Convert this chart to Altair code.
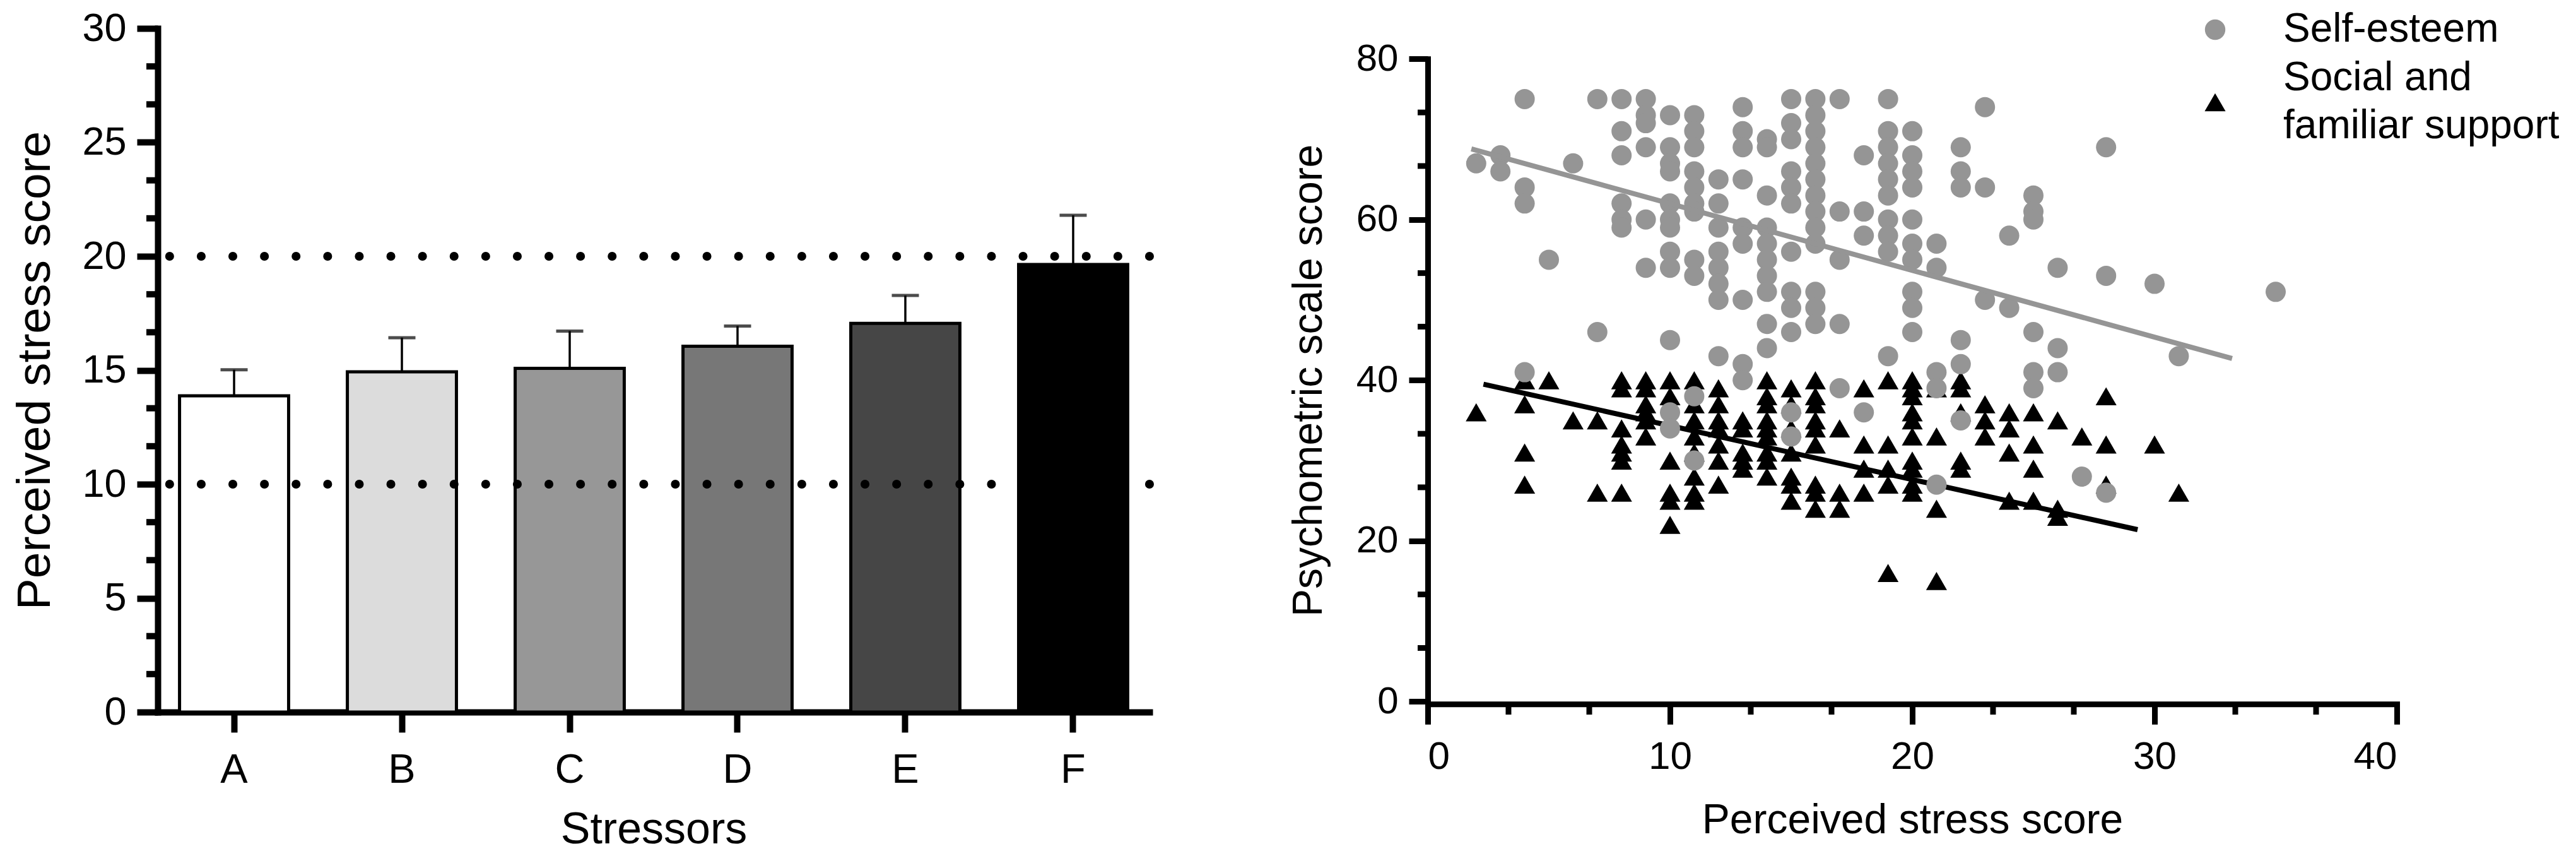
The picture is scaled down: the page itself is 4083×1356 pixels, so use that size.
import altair as alt
import pandas as pd

FONT = "Liberation Sans, Arial, sans-serif"

# ---------------- Left panel data ----------------
STRESSORS = ["A", "B", "C", "D", "E", "F"]
MEANS = [13.88, 14.93, 15.08, 16.05, 17.06, 19.64]
UPPER = [15.02, 16.43, 16.72, 16.94, 18.28, 21.80]
FILLS = ["#ffffff", "#dcdcdc", "#979797", "#777777", "#464646", "#000000"]
REF_LINES = [10, 20]
LEFT_MAJOR = [0, 5, 10, 15, 20, 25, 30]
LEFT_MINOR = [1.667, 3.333, 6.667, 8.333, 11.667, 13.333, 16.667, 18.333,
              21.667, 23.333, 26.667, 28.333]

# ---------------- Right panel data ----------------
SE_NAME = "Self-esteem"
SS_NAME = "Social and familiar support"
SS_LABEL_LINES = ["Social and", "\u00a0familiar support"]

SELF_ESTEEM = {
    2: [67], 3: [68, 66], 4: [75, 64, 62, 41], 5: [55], 6: [67], 7: [75, 46],
    8: [75, 71, 68, 62, 60, 59],
    9: [75, 73, 72, 69, 60, 54],
    10: [73, 69, 67, 66, 62, 60, 59, 56, 54, 45, 36, 34],
    11: [73, 71, 69, 66, 64, 62, 61, 55, 53, 38, 30],
    12: [65, 62, 59, 56, 54, 52, 50, 43],
    13: [74, 71, 69, 65, 59, 57, 50, 42, 40],
    14: [70, 69, 63, 59, 57, 55, 53, 51, 47, 44],
    15: [75, 72, 70, 66, 64, 62, 56, 51, 49, 46, 36, 33],
    16: [75, 73, 71, 69, 67, 65, 63, 61, 59, 57, 51, 49, 47],
    17: [75, 61, 55, 47, 39],
    18: [68, 61, 58, 36],
    19: [75, 71, 69, 67, 65, 63, 60, 58, 56, 43],
    20: [71, 68, 66, 64, 60, 57, 55, 51, 49, 46],
    21: [57, 54, 41, 39, 27],
    22: [69, 66, 64, 45, 42, 35],
    23: [74, 64, 50], 24: [58, 49], 25: [63, 61, 60, 46, 41, 39],
    26: [54, 44, 41], 27: [28], 28: [69, 53, 26], 30: [52], 31: [43], 35: [51],
}

SOCIAL_SUPPORT = {
    2: [36], 4: [40, 37, 31, 27], 5: [40], 6: [35], 7: [35, 26],
    8: [40, 39, 34, 32, 31, 30, 26],
    9: [40, 39, 37, 36, 35, 33],
    10: [40, 38, 30, 26, 25, 22],
    11: [40, 37, 35, 33, 31, 28, 26, 25],
    12: [39, 37, 35, 34, 32, 30, 27],
    13: [35, 34, 31, 30, 29],
    14: [40, 38, 37, 35, 34, 33, 31, 30, 28],
    15: [39, 37, 34, 31, 28, 27, 25],
    16: [40, 38, 37, 35, 34, 32, 27, 26, 24],
    17: [34, 26, 24], 18: [39, 32, 29, 26], 19: [40, 32, 29, 27, 16],
    20: [40, 39, 38, 36, 35, 33, 30, 29, 27, 26],
    21: [39, 33, 24, 15], 22: [40, 39, 36, 30, 29], 23: [37, 35, 33],
    24: [36, 34, 31, 25], 25: [36, 32, 29, 25], 26: [35, 24, 23],
    27: [33], 28: [38, 32, 27], 30: [32], 31: [26],
}

# fitted lines (end points)
SE_LINE_X = [1.8, 33.2]
SE_LINE_Y = [68.8, 42.7]
SS_LINE_X = [2.3, 29.3]
SS_LINE_Y = [39.5, 21.4]

RIGHT_X_MAJOR = [0, 10, 20, 30, 40]
RIGHT_X_MINOR = [3.333, 6.667, 13.333, 16.667, 23.333, 26.667, 33.333, 36.667]
RIGHT_Y_MAJOR = [0, 20, 40, 60, 80]
RIGHT_Y_MINOR = [6.667, 13.333, 26.667, 33.333, 46.667, 53.333, 66.667, 73.333]

GRAY = "#959595"

# ================= Left chart =================
W1, H = 1572, 1083
bar_df = pd.DataFrame({"stressor": STRESSORS, "mean": MEANS, "upper": UPPER})
LEFT_YTITLE = "Perceived stress score"
yscale_l = alt.Scale(domain=[0, 30], nice=False, zero=True)
xscale_l = alt.Scale(domain=STRESSORS, paddingInner=0.35, paddingOuter=0.13)

bars = alt.Chart(bar_df).mark_bar(stroke="black", strokeWidth=5).encode(
    x=alt.X("stressor:N", scale=xscale_l, axis=alt.Axis(
        title="Stressors", labelAngle=0, tickSize=32, tickWidth=10, tickColor="black",
        domainWidth=10, domainColor="black", domainCap="square",
        labelFontSize=65, labelPadding=28, labelFont=FONT, labelColor="black",
        titleFontSize=70, titlePadding=28, titleFont=FONT, titleFontWeight="normal",
        titleColor="black")),
    y=alt.Y("mean:Q", scale=yscale_l, title=LEFT_YTITLE, axis=alt.Axis(
        values=LEFT_MAJOR, tickSize=33, tickWidth=10, tickColor="black",
        domainWidth=10, domainColor="black", domainCap="square",
        labelFontSize=63, labelPadding=17, labelFont=FONT, labelColor="black",
        titleFontSize=75, titlePadding=35, titleFont=FONT, titleFontWeight="normal",
        titleColor="black")),
    fill=alt.Fill("stressor:N", scale=alt.Scale(domain=STRESSORS, range=FILLS), legend=None),
)

err = alt.Chart(bar_df).mark_rule(color="black", strokeWidth=3.5).encode(
    x=alt.X("stressor:N", scale=xscale_l),
    y=alt.Y("mean:Q", scale=yscale_l, title=LEFT_YTITLE),
    y2="upper:Q",
)
caps = alt.Chart(bar_df).mark_tick(color="black", thickness=5, size=43, orient="horizontal").encode(
    x=alt.X("stressor:N", scale=xscale_l),
    y=alt.Y("upper:Q", scale=yscale_l, title=LEFT_YTITLE),
)
refs = alt.Chart(pd.DataFrame({"ref": REF_LINES})).mark_rule(
    color="black", strokeWidth=14, strokeDash=[0.1, 50], strokeCap="round"
).encode(y=alt.Y("ref:Q", scale=yscale_l, title=LEFT_YTITLE))
minor_l = alt.Chart(pd.DataFrame({"m": LEFT_MINOR})).mark_rule(
    color="black", strokeWidth=10
).encode(y=alt.Y("m:Q", scale=yscale_l, title=LEFT_YTITLE),
         x=alt.value(0), x2=alt.value(-18))

left = alt.layer(bars, err, caps, refs, minor_l).properties(width=W1, height=H)

# ================= Right chart =================
W2 = 1536
RIGHT_XTITLE = "Perceived stress score"
RIGHT_YTITLE = "Psychometric scale score"

ss_df = pd.DataFrame([{"stress": x, "score": y, "series": SS_NAME}
                      for x, ys in SOCIAL_SUPPORT.items() for y in ys])
se_df = pd.DataFrame([{"stress": x, "score": y, "series": SE_NAME}
                      for x, ys in SELF_ESTEEM.items() for y in ys])

xscale_r = alt.Scale(domain=[0, 40], nice=False)
yscale_r = alt.Scale(domain=[0, 80], nice=False, range=[1066.3, 48.3])

x_axis_r = alt.Axis(values=RIGHT_X_MAJOR, tickSize=32, tickWidth=9, tickColor="black",
                    domainWidth=9, domainColor="black", domainCap="square", offset=-12.7,
                    labelFontSize=62, labelPadding=21, labelFont=FONT, labelColor="black",
                    titleFontSize=66, titlePadding=38, titleFont=FONT,
                    titleFontWeight="normal", titleColor="black")
y_axis_r = alt.Axis(values=RIGHT_Y_MAJOR, tickSize=30, tickWidth=9, tickColor="black",
                    domainWidth=9, domainColor="black", domainCap="square",
                    labelFontSize=60, labelPadding=17, labelFont=FONT, labelColor="black",
                    titleFontSize=66, titlePadding=41, titleFont=FONT,
                    titleFontWeight="normal", titleColor="black")

LEG_X = 3229
legend_se = alt.Legend(
    title=None, orient="none", legendX=LEG_X, legendY=-30, padding=0,
    labelFontSize=64, labelFont=FONT, labelColor="black", labelLimit=0,
    labelOffset=76, symbolSize=1050, symbolStrokeWidth=0, symbolType="circle",
)
legend_ss = alt.Legend(
    title=None, orient="none", legendX=LEG_X, legendY=85, padding=0,
    labelFontSize=64, labelFont=FONT, labelColor="black", labelLimit=0,
    labelOffset=76, symbolSize=1100, symbolStrokeWidth=0,
    symbolFillColor="black", labelBaseline="line-bottom",
    labelExpr="[" + ", ".join("'" + s + "'" for s in SS_LABEL_LINES) + "]",
)

tri = alt.Chart(ss_df).mark_point(filled=True, size=1100, opacity=1, strokeWidth=0,
                                  color="black").encode(
    x=alt.X("stress:Q", scale=xscale_r, title=RIGHT_XTITLE, axis=x_axis_r),
    y=alt.Y("score:Q", scale=yscale_r, title=RIGHT_YTITLE, axis=y_axis_r),
    shape=alt.Shape("series:N", scale=alt.Scale(domain=[SS_NAME], range=["triangle-up"]),
                    legend=legend_ss),
)
circ = alt.Chart(se_df).mark_point(filled=True, size=1024, opacity=1, strokeWidth=0,
                                   shape="circle").encode(
    x=alt.X("stress:Q", scale=xscale_r, title=RIGHT_XTITLE),
    y=alt.Y("score:Q", scale=yscale_r, title=RIGHT_YTITLE),
    color=alt.Color("series:N", scale=alt.Scale(domain=[SE_NAME], range=[GRAY]),
                    legend=legend_se),
)
ss_line = alt.Chart(pd.DataFrame({"lx": SS_LINE_X, "ly": SS_LINE_Y})).mark_line(
    color="black", strokeWidth=8).encode(
    x=alt.X("lx:Q", scale=xscale_r, title=RIGHT_XTITLE),
    y=alt.Y("ly:Q", scale=yscale_r, title=RIGHT_YTITLE),
)
se_line = alt.Chart(pd.DataFrame({"lx": SE_LINE_X, "ly": SE_LINE_Y})).mark_line(
    color=GRAY, strokeWidth=8).encode(
    x=alt.X("lx:Q", scale=xscale_r, title=RIGHT_XTITLE),
    y=alt.Y("ly:Q", scale=yscale_r, title=RIGHT_YTITLE),
)
minor_ry = alt.Chart(pd.DataFrame({"m": RIGHT_Y_MINOR})).mark_rule(
    color="black", strokeWidth=9).encode(
    y=alt.Y("m:Q", scale=yscale_r, title=RIGHT_YTITLE),
    x=alt.value(0), x2=alt.value(-16),
)
minor_rx = alt.Chart(pd.DataFrame({"m": RIGHT_X_MINOR})).mark_rule(
    color="black", strokeWidth=9).encode(
    x=alt.X("m:Q", scale=xscale_r, title=RIGHT_XTITLE),
    y=alt.value(1070), y2=alt.value(1087),
)

right = alt.layer(tri, ss_line, circ, se_line, minor_ry, minor_rx).properties(width=W2, height=H)

chart = alt.hconcat(left, right, spacing=441, bounds="flush").properties(
    padding={"left": 10, "top": 6, "right": 0, "bottom": 0}, background="white"
).configure(
    style={"guide-label": {"lineHeight": 76}}
).configure_view(stroke=None).configure_axis(grid=False)

chart.save("out.html", embed_options={"renderer": "svg", "actions": False})
